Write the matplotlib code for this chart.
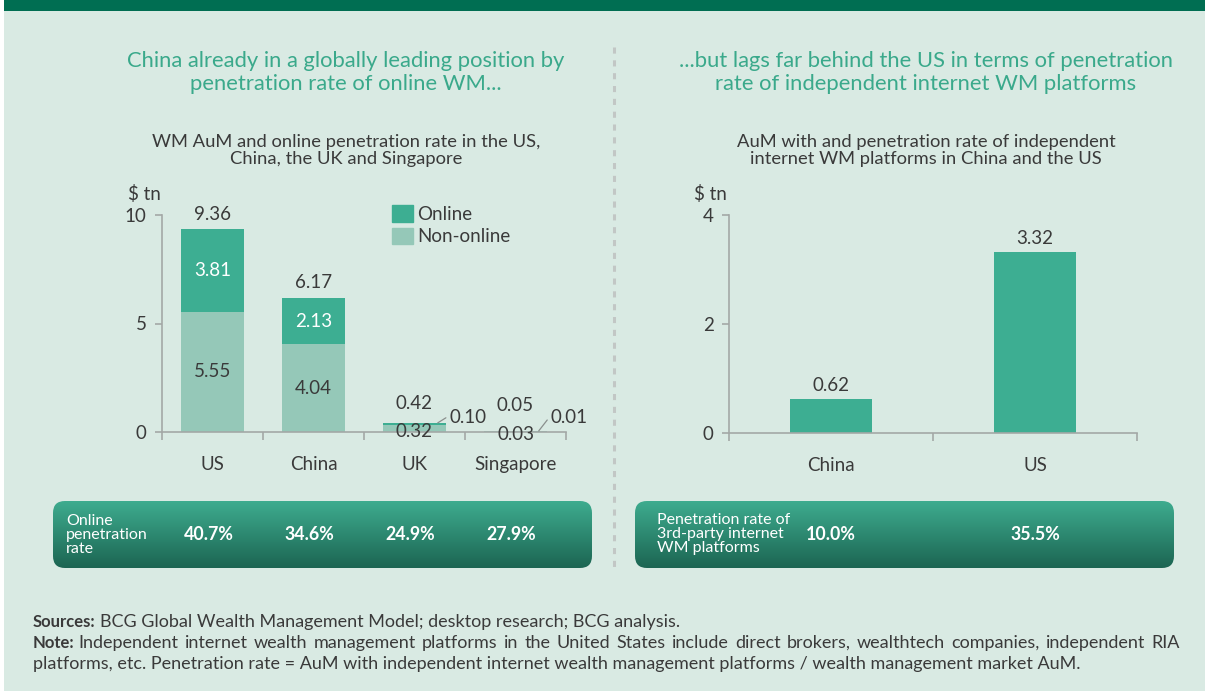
import numpy as np
import matplotlib
matplotlib.use("Agg")
import matplotlib.pyplot as plt
from matplotlib.patches import Rectangle, FancyBboxPatch
from matplotlib.colors import LinearSegmentedColormap
from matplotlib.transforms import blended_transform_factory

plt.rcParams["font.family"] = ["Lato", "DejaVu Sans"]

# ---- data ----
countries = ["US", "China", "UK", "Singapore"]
online = [3.81, 2.13, 0.10, 0.01]
non_online = [5.55, 4.04, 0.32, 0.03]
totals = [9.36, 6.17, 0.42, 0.05]
online_rate = ["40.7%", "34.6%", "24.9%", "27.9%"]

platform_markets = ["China", "US"]
platform_aum = [0.62, 3.32]
platform_rate = ["10.0%", "35.5%"]

# ---- style ----
W, H = 1205, 691
BG = "#d9eae3"
BAND = "#006e52"
TITLE_C = "#3aa98b"
ONLINE_C = "#3dae92"
NONONLINE_C = "#95c8b8"
TEXT_C = "#3a3a3a"
AXIS_C = "#a3a8a6"
FS = 13.5

fig = plt.figure(figsize=(W / 100, H / 100), dpi=100, facecolor=BG)

ov = fig.add_axes([0, 0, 1, 1], zorder=0)
ov.set_xlim(0, W)
ov.set_ylim(H, 0)
ov.axis("off")
ov.add_patch(Rectangle((4, 0), W - 4, 11, color=BAND, lw=0))
ov.add_patch(Rectangle((0, 0), 4, H, color="white", lw=0))
ov.plot([614, 614], [47, 572], color="#c2c7c5", lw=2.2, ls=(0, (2, 2.2)))


def px_axes(x0, y0, x1, y1):
    a = fig.add_axes([x0 / W, 1 - y1 / H, (x1 - x0) / W, (y1 - y0) / H], zorder=2)
    a.set_facecolor("none")
    return a


def style_axes(a, n, yticks):
    a.set_xlim(-0.5, n - 0.5)
    a.set_ylim(0, yticks[-1])
    for s in ["top", "right"]:
        a.spines[s].set_visible(False)
    for s in ["left", "bottom"]:
        a.spines[s].set_color(AXIS_C)
        a.spines[s].set_linewidth(1.2)
    a.set_yticks(yticks)
    a.set_yticklabels([str(v) for v in yticks])
    a.tick_params(axis="y", length=5, width=1.2, color=AXIS_C, pad=6,
                  labelsize=FS, labelcolor=TEXT_C)
    a.set_xticks(np.arange(n + 1) - 0.5)
    a.set_xticklabels([])
    a.tick_params(axis="x", which="major", length=6, width=1.2, color=AXIS_C)
    a.set_xticks(np.arange(n), minor=True)
    a.tick_params(axis="x", which="minor", length=0, pad=17,
                  labelsize=FS, labelcolor=TEXT_C)
    a.text(-0.085, 1.055, "$ tn", transform=a.transAxes, fontsize=FS,
           color=TEXT_C, ha="left", va="bottom")


# ---- left chart ----
ax1 = px_axes(162, 215, 566, 432)
x1 = np.arange(len(countries))
style_axes(ax1, len(countries), [0, 5, 10])
ax1.set_xticklabels(countries, minor=True)
ax1.bar(x1, non_online, width=0.63, color=NONONLINE_C, label="Non-online")
ax1.bar(x1, online, width=0.63, bottom=non_online, color=ONLINE_C, label="Online")

total_pad = [10.5, 11, 14, 18]
for i in range(len(countries)):
    ax1.annotate(f"{totals[i]:.2f}", (x1[i], totals[i]), xytext=(0, total_pad[i]),
                 textcoords="offset points", ha="center", va="center",
                 fontsize=FS, color=TEXT_C)
    if online[i] > 1:
        ax1.text(x1[i], non_online[i] + online[i] / 2, f"{online[i]:.2f}",
                 ha="center", va="center", fontsize=FS, color="white")
        ax1.text(x1[i], non_online[i] / 2, f"{non_online[i]:.2f}",
                 ha="center", va="center", fontsize=FS, color=TEXT_C)
    else:
        ax1.annotate(f"{non_online[i]:.2f}", (x1[i], non_online[i] / 2),
                     xytext=(0, -2), textcoords="offset points",
                     ha="center", va="center", fontsize=FS, color=TEXT_C,
                     annotation_clip=False)
        ax1.annotate(f"{online[i]:.2f}", (x1[i] + 0.23, totals[i]),
                     xytext=(x1[i] + 0.35, 0.69), textcoords="data",
                     ha="left", va="center", fontsize=FS, color=TEXT_C,
                     arrowprops=dict(arrowstyle="-", color="#8a8f8d", lw=0.9,
                                     shrinkA=1, shrinkB=0, relpos=(0, 0.6)),
                     annotation_clip=False)

handles = [Rectangle((0, 0), 1, 1, color=ONLINE_C), Rectangle((0, 0), 1, 1, color=NONONLINE_C)]
ax1.legend(handles, ["Online", "Non-online"], loc="upper left",
           bbox_to_anchor=(0.55, 1.08), frameon=False, fontsize=FS,
           handlelength=1.15, handleheight=1.0, handletextpad=0.2,
           labelspacing=0.25, borderaxespad=0, labelcolor=TEXT_C)

# ---- right chart ----
ax2 = px_axes(729, 215, 1137, 433)
x2 = np.arange(len(platform_markets))
style_axes(ax2, len(platform_markets), [0, 2, 4])
ax2.set_xticklabels(platform_markets, minor=True)
ax2.bar(x2, platform_aum, width=0.4, color=ONLINE_C)
for i in range(len(platform_markets)):
    ax2.annotate(f"{platform_aum[i]:.2f}", (x2[i], platform_aum[i]), xytext=(0, 10),
                 textcoords="offset points", ha="center", va="center",
                 fontsize=FS, color=TEXT_C)

# ---- titles ----
ov.text(346, 72.5, "China already in a globally leading position by\npenetration rate of online WM...",
        ha="center", va="center", fontsize=15.8, color=TITLE_C, linespacing=1.2)
ov.text(926, 72.5, "...but lags far behind the US in terms of penetration\nrate of independent internet WM platforms",
        ha="center", va="center", fontsize=15.8, color=TITLE_C, linespacing=1.2)
ov.text(346, 150.5, "WM AuM and online penetration rate in the US,\nChina, the UK and Singapore",
        ha="center", va="center", fontsize=13.2, color=TEXT_C, linespacing=1.15)
ov.text(926, 150.5, "AuM with and penetration rate of independent\ninternet WM platforms in China and the US",
        ha="center", va="center", fontsize=13.2, color=TEXT_C, linespacing=1.15)

# ---- penetration boxes ----
grad_cmap = LinearSegmentedColormap.from_list("g", ["#3eac8f", "#1c6552"])
grad = np.linspace(0, 1, 256).reshape(-1, 1)


def gradient_box(x0, x1, y0, y1):
    patch = FancyBboxPatch((x0, y0), x1 - x0, y1 - y0,
                           boxstyle="round,pad=0,rounding_size=12",
                           fc="none", ec="none")
    ov.add_patch(patch)
    im = ov.imshow(grad, extent=(x0, x1, y1, y0), cmap=grad_cmap, aspect="auto",
                   origin="upper", zorder=1)
    im.set_clip_path(patch)


gradient_box(53, 592, 501, 568)
gradient_box(635, 1174, 501, 568)

ov.text(66, 535, "Online\npenetration\nrate", ha="left", va="center",
        fontsize=11.5, color="white", linespacing=1.03, zorder=3)
ov.text(657, 534, "Penetration rate of\n3rd-party internet\nWM platforms", ha="left",
        va="center", fontsize=11.5, color="white", linespacing=1.03, zorder=3)

tr1 = blended_transform_factory(ax1.transData, ov.transData)
for i, r in enumerate(online_rate):
    ov.text(x1[i] - 0.04, 535, r, transform=tr1, ha="center", va="center",
            fontsize=12.8, fontweight="bold", color="white", zorder=3)
tr2 = blended_transform_factory(ax2.transData, ov.transData)
for i, r in enumerate(platform_rate):
    ov.text(x2[i], 535, r, transform=tr2, ha="center", va="center",
            fontsize=12.8, fontweight="bold", color="white", zorder=3)

# ---- footnotes ----
renderer = fig.canvas.get_renderer()
inv = ov.transData.inverted()


def text_right(t):
    bb = t.get_window_extent(renderer)
    return inv.transform((bb.x1, bb.y0))[0]


def footnote(x, y, bold, rest, x_end=None):
    xe = x
    if bold:
        t = ov.text(x, y, bold, ha="left", va="center", fontsize=12,
                    fontweight="bold", color=TEXT_C)
        xe = text_right(t) + 4
    if x_end is None:
        ov.text(xe, y, rest, ha="left", va="center", fontsize=13, color=TEXT_C)
        return
    # justified line: spread the words up to x_end
    words = rest.split(" ")
    arts = [ov.text(0, y, w, ha="left", va="center", fontsize=13, color=TEXT_C)
            for w in words]
    widths = [text_right(a) for a in arts]
    gap = (x_end - xe - sum(widths)) / (len(words) - 1)
    pos = xe
    for a, w in zip(arts, widths):
        a.set_x(pos)
        pos += w + gap


footnote(33, 622, "Sources:", "BCG Global Wealth Management Model; desktop research; BCG analysis.")
footnote(33, 643, "Note:", "Independent internet wealth management platforms in the United States include "
         "direct brokers, wealthtech companies, independent RIA", x_end=1180)
footnote(33, 664, None, "platforms, etc. Penetration rate = AuM with independent internet wealth management "
         "platforms / wealth management market AuM.")

fig.savefig("out.png", dpi=100, facecolor=BG)
